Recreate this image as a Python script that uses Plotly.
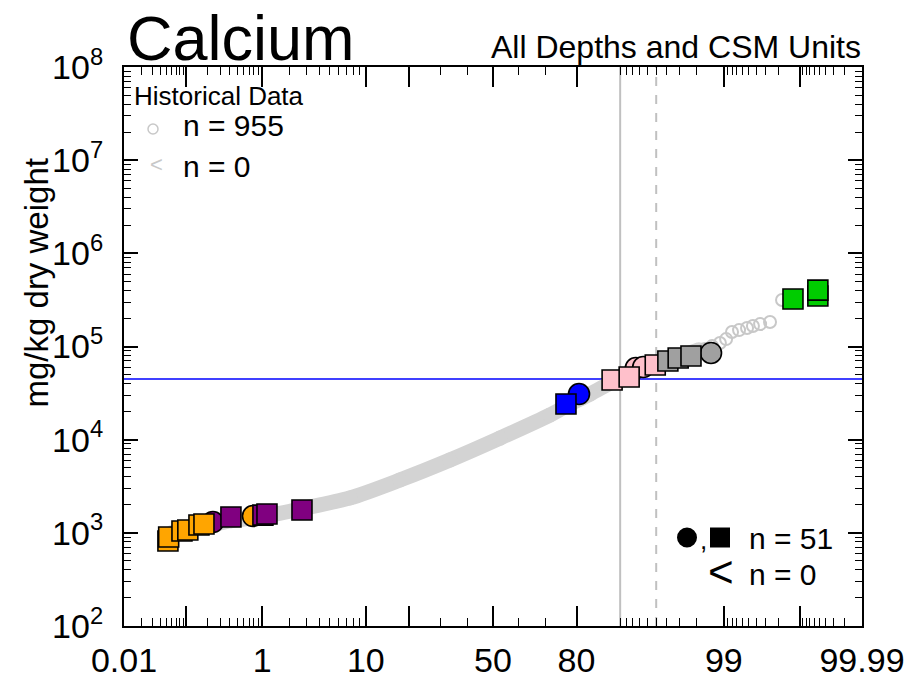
import plotly.graph_objects as go
from statistics import NormalDist

# ---------------- data ----------------
# historical data (n = 955): dense band read along its centre, then the sparse upper tail
hist_band_pct = [0.06, 0.16, 0.42, 1.05, 2.58, 7.47, 17.4, 33.2, 52.8, 71.7, 77.0, 83.6, 90.0, 94.3, 97.03, 98.1]
hist_band_val = [1000, 1150, 1350, 1500, 1800, 2370, 3690, 6050, 10400, 18400, 23000, 30900, 45900, 61700, 79000, 92000]
hist_tail_pct = [98.37, 98.64, 98.89, 99.06, 99.20, 99.343, 99.477, 99.56, 99.645, 99.738, 99.821]
hist_tail_val = [93900, 101000, 109000, 120000, 143000, 150000, 158000, 166000, 174000, 183000, 316000]

# current data (n = 51): probability (%), value (mg/kg), group, marker shape
pts_pct = [0.0526, 0.054, 0.086, 0.105, 0.152, 0.179, 0.238, 0.413, 0.778, 1.02, 1.136, 2.71,
           76.9, 80.7, 88.5, 91.5, 92.5, 93.5, 94.9, 96.1, 96.9, 97.7, 98.6, 99.875, 99.947, 99.947]
pts_val = [817, 902, 1047, 1072, 1213, 1244, 1306, 1479, 1514, 1550, 1592, 1758,
           24150, 30900, 43700, 47000, 58800, 60200, 63400, 69800, 75200, 79000, 85200, 323000, 348000, 403000]
pts_group = ["orange", "orange", "orange", "orange", "orange", "orange", "purple", "purple", "orange",
             "purple", "purple", "purple", "blue", "blue", "pink", "pink", "pink", "pink", "pink",
             "gray", "gray", "gray", "gray", "green", "green", "green"]
pts_shape = ["square", "square", "square", "square", "square", "square", "circle", "square", "circle",
             "square", "square", "square", "square", "circle", "square", "square", "circle", "circle", "square",
             "square", "square", "square", "circle", "square", "square", "square"]

threshold_val = 44800          # blue horizontal line
vline_pct = [90, 95]           # solid / dashed vertical lines

x_major_pct = [0.01, 0.1, 1, 10, 20, 50, 80, 99, 99.9, 99.99]
x_major_lbl = ["0.01", "", "1", "10", "", "50", "80", "99", "", "99.99"]
x_minor_pct = [0.02, 0.03, 0.04, 0.05, 0.06, 0.07, 0.08, 0.09,
               0.2, 0.3, 0.4, 0.5, 0.6, 0.7, 0.8, 0.9,
               2, 3, 4, 5, 6, 7, 8, 9, 30, 40, 60, 70, 90,
               91, 92, 93, 94, 95, 96, 97, 98,
               99.1, 99.2, 99.3, 99.4, 99.5, 99.6, 99.7, 99.8,
               99.91, 99.92, 99.93, 99.94, 99.95, 99.96, 99.97, 99.98]
y_decades = [2, 3, 4, 5, 6, 7, 8]

# ---------------- styles ----------------
COLORS = {"orange": "#FFA500", "purple": "#800080", "blue": "#0000FF", "pink": "#FFC0CB",
          "gray": "#A0A0A0", "green": "#00CC00"}
HIST = "#D3D3D3"
HIST_TAIL = "#C8C8C8"
FONT = "Liberation Sans, Arial, Helvetica, sans-serif"

nd = NormalDist()
def pz(p):
    return nd.inv_cdf(p / 100.0)

XMIN, XMAX = pz(0.01), pz(99.99)

fig = go.Figure()

# reference lines
fig.add_trace(go.Scatter(x=[XMIN, XMAX], y=[threshold_val, threshold_val], mode="lines",
                         line=dict(color="#0000FF", width=1.5), hoverinfo="skip"))
fig.add_trace(go.Scatter(x=[pz(vline_pct[0])] * 2, y=[100, 1e8], mode="lines",
                         line=dict(color="#C0C0C0", width=2), hoverinfo="skip"))
fig.add_trace(go.Scatter(x=[pz(vline_pct[1])] * 2, y=[100, 1e8], mode="lines",
                         line=dict(color="#C0C0C0", width=2, dash="dash"), hoverinfo="skip"))

# historical data
fig.add_trace(go.Scatter(x=[pz(p) for p in hist_band_pct], y=hist_band_val, mode="lines+markers",
                         line=dict(color=HIST, width=15, shape="spline", smoothing=0.8),
                         marker=dict(symbol="circle", size=15, color=HIST), hoverinfo="skip"))
fig.add_trace(go.Scatter(x=[pz(p) for p in hist_tail_pct], y=hist_tail_val, mode="markers",
                         marker=dict(symbol="circle-open", size=12, color=HIST_TAIL, line=dict(width=2)),
                         hoverinfo="skip"))

# current data: circles first, then squares
for shape, size in (("circle", 21), ("square", 20)):
    idx = [i for i, s in enumerate(pts_shape) if s == shape]
    fig.add_trace(go.Scatter(
        x=[pz(pts_pct[i]) for i in idx], y=[pts_val[i] for i in idx], mode="markers",
        marker=dict(symbol=shape, size=size, color=[COLORS[pts_group[i]] for i in idx],
                    line=dict(color="black", width=1.6)),
        cliponaxis=False, hoverinfo="skip"))

# ---------------- layout ----------------
L, R, T, B = 124, 862, 67, 626
W, H = 907, 678
def px(x):
    return (x - L) / (R - L)
def py(y):
    return (B - y) / (B - T)

ann = []
def text(t, x, y, size, xanchor="left", color="black"):
    ann.append(dict(text=t, x=px(x), y=py(y), xref="paper", yref="paper", xanchor=xanchor,
                    yanchor="middle", showarrow=False, font=dict(size=size, color=color, family=FONT)))

text("Calcium", 125, 38.5, 63)
text("All Depths and CSM Units", 863, 46.5, 32, xanchor="right")
text("Historical Data", 132, 96, 26)
text("n = 955", 181, 125.5, 30)
text("<", 148, 164, 22, color=HIST_TAIL)
text("n = 0", 181, 167, 30)
text(",", 698, 540, 26)
text("n = 51", 747, 538, 30)
text("<", 706, 571, 44)
text("n = 0", 747, 574, 30)
ann.append(dict(text="mg/kg dry weight", x=px(36), y=py(283.5), xref="paper", yref="paper",
                xanchor="center", yanchor="middle", textangle=-90, showarrow=False,
                font=dict(size=33, color="black", family=FONT)))

shapes = [
    dict(type="circle", xref="paper", yref="paper", xsizemode="pixel", ysizemode="pixel",
         xanchor=px(153), yanchor=py(129), x0=-5, x1=5, y0=-5, y1=5,
         line=dict(color=HIST_TAIL, width=1.5)),
    dict(type="circle", xref="paper", yref="paper", xsizemode="pixel", ysizemode="pixel",
         xanchor=px(687), yanchor=py(537.5), x0=-10, x1=10, y0=-10, y1=10,
         fillcolor="black", line=dict(color="black", width=0)),
    dict(type="rect", xref="paper", yref="paper", xsizemode="pixel", ysizemode="pixel",
         xanchor=px(720), yanchor=py(537.5), x0=-10, x1=10, y0=-10, y1=10,
         fillcolor="black", line=dict(color="black", width=0)),
]

fig.update_layout(
    width=W, height=H, margin=dict(l=L, r=W - R, t=T, b=H - B, pad=0, autoexpand=False),
    plot_bgcolor="white", paper_bgcolor="white", showlegend=False,
    font=dict(family=FONT, color="black"),
    annotations=ann, shapes=shapes,
    xaxis=dict(type="linear", range=[XMIN, XMAX], showgrid=False, zeroline=False, automargin=False,
               showline=True, linecolor="black", linewidth=2, mirror="allticks",
               ticks="inside", ticklen=20, tickwidth=1.5, tickcolor="black",
               tickmode="array", tickvals=[pz(p) for p in x_major_pct], ticktext=x_major_lbl,
               tickfont=dict(size=34, family=FONT), ticklabelstandoff=3,
               minor=dict(ticks="inside", ticklen=8, tickwidth=1.2, tickcolor="black",
                          tickmode="array", tickvals=[pz(p) for p in x_minor_pct])),
    yaxis=dict(type="log", range=[2, 8], showgrid=False, zeroline=False, automargin=False,
               showline=True, linecolor="black", linewidth=2, mirror="allticks",
               ticks="inside", ticklen=14, tickwidth=1.5, tickcolor="black",
               tickmode="array", tickvals=[10 ** k for k in y_decades],
               ticktext=["10<sup>%d</sup>" % k for k in y_decades],
               tickfont=dict(size=34, family=FONT), ticklabelstandoff=12,
               minor=dict(ticks="inside", ticklen=7, tickwidth=1.2, tickcolor="black",
                          tickmode="array",
                          tickvals=[m * 10 ** k for k in y_decades[:-1] for m in range(2, 10)])),
)

fig.write_html("out.html")
